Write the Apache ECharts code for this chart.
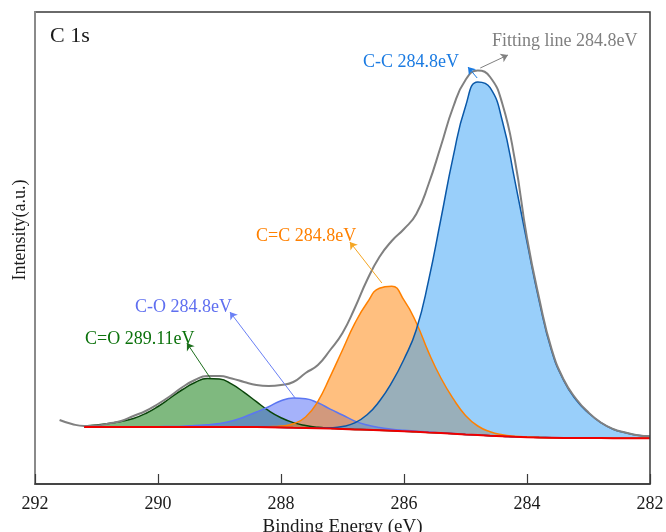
<!DOCTYPE html>
<html>
<head>
<meta charset="utf-8">
<title>C 1s</title>
<script src="https://cdn.jsdelivr.net/npm/echarts@6/dist/echarts.min.js"></script>
<style>
  html, body { margin: 0; padding: 0; background: #fff; }
  #chart { width: 666px; height: 532px; }
</style>
</head>
<body>
<div id="chart"></div>
<script>
// binding energy grid (eV), 291.6 -> 282.0
var energy = [291.6, 291.4, 291.2, 291.0, 290.8, 290.6, 290.4, 290.2, 290.0, 289.8,
  289.6, 289.4, 289.2, 289.0, 288.8, 288.6, 288.4, 288.2, 288.0, 287.8,
  287.6, 287.4, 287.2, 287.0, 286.8, 286.6, 286.4, 286.2, 286.0, 285.8,
  285.6, 285.4, 285.2, 285.0, 284.8, 284.6, 284.4, 284.2, 284.0, 283.8,
  283.6, 283.4, 283.2, 283.0, 282.8, 282.6, 282.4, 282.2, 282.0];

// background (red line), a.u.
var background = [null, null, 57, 57, 57, 57, 57, 57, 57, 57,
  57, 57, 57, 57, 57, 57, 57, 56.8, 56.5, 56.2,
  56, 55.7, 55.4, 55, 54.6, 54.2, 53.8, 53.3, 52.8, 52.3,
  51.6, 51, 50.3, 49.6, 49, 48.3, 47.8, 47.2, 46.8, 46.5,
  46.3, 46.1, 46, 46, 45.9, 45.8, 45.8, 45.7, 45.7];

// fitted components, height above background
var peakCO2 = [null, null, 1, 2, 3.5, 5.5, 8.5, 13.5, 20.5, 29,
  37.5, 44.5, 48.5, 48, 42.8, 34.6, 25.3, 16.5, 9.8, 5.2,
  2.5, 1, 0.4, 0, 0, 0, 0, 0, 0, 0,
  0, 0, 0, 0, 0, 0, 0, 0, 0, 0,
  0, 0, 0, 0, 0, 0, 0, 0, 0];
var peakCO = [null, null, 0, 0, 0, 0, 0.1, 0.2, 0.3, 0.5,
  0.8, 1.5, 2.2, 3.5, 6, 10, 15, 20.5, 26.7, 29.7,
  29.2, 25.5, 19.5, 14, 8.3, 4.8, 2.6, 1.5, 0.9, 0.5,
  0.3, 0.2, 0.1, 0, 0, 0, 0, 0, 0, 0,
  0, 0, 0, 0, 0, 0, 0, 0, 0];
var peakCC2 = [null, null, 0, 0, 0, 0, 0, 0, 0, 0,
  0, 0, 0, 0, 0, 0, 0, 0.5, 1.5, 4,
  11, 27, 52, 79, 106, 127, 142, 144.5, 131, 109,
  80, 55, 35, 19, 9, 4, 1.5, 0.6, 0.2, 0,
  0, 0, 0, 0, 0, 0, 0, 0, 0];
var peakCC = [null, null, 0, 0, 0, 0, 0, 0, 0, 0,
  0, 0, 0, 0, 0, 0, 0, 0, 0, 0,
  0, 0.2, 0.8, 2.5, 6.5, 15, 29, 48, 72, 102,
  152, 214, 277, 328, 353, 348, 315, 257, 195, 136,
  87, 57, 38, 25, 15.5, 9, 5.5, 3, 2];

// envelope (fitting line)
var fitLine = [64, 60, 58, 58.5, 60.5, 63, 68, 73, 80, 88,
  97, 104, 108, 108, 105.5, 102, 99, 98, 99, 102,
  111, 119, 134, 151, 176, 204, 227, 243, 255, 270,
  300, 338, 377, 404, 413.5, 407, 380, 325, 246, 185,
  135, 104, 85, 71.5, 61.5, 55, 51.5, 48.7, 47.7];

var xTicks = [282, 284, 286, 288, 290, 292];

var serif = '"Liberation Serif", "Times New Roman", serif';

function onBackground(vals) {
  return energy.map(function (e, i) {
    if (vals[i] == null || background[i] == null) return [e, null];
    return [e, background[i] + vals[i]];
  });
}
function plain(vals) {
  return energy.map(function (e, i) { return [e, vals[i]]; });
}
// white cover under the background line, run a little past its left end
var firstBg = background.filter(function (v) { return v != null; })[0];
function cover() {
  return energy.map(function (e, i) {
    return [e, background[i] == null ? firstBg : background[i]];
  });
}

function peak(name, vals, line, fill) {
  return {
    name: name,
    type: 'line',
    data: onBackground(vals),
    smooth: 0.5,
    symbol: 'none',
    silent: true,
    lineStyle: { color: line, width: 1.5 },
    areaStyle: { color: fill, opacity: 1, origin: 'start' }
  };
}

function arrow(from, to, color) {
  var ls = { color: color, width: 1, type: 'solid' };
  return [
    { coord: from, lineStyle: ls, itemStyle: { color: color } },
    { coord: to, lineStyle: ls, itemStyle: { color: color } }
  ];
}

var chart = echarts.init(document.getElementById('chart'));

var option = {
  animation: false,
  backgroundColor: '#fff',
  grid: {
    left: 35, right: 16, top: 12, bottom: 48,
    show: true, borderColor: '#3a3a3a', borderWidth: 1.5,
    backgroundColor: 'transparent', z: 10,
    outerBoundsMode: 'none'
  },
  xAxis: {
    type: 'value', min: 282, max: 292, interval: 2, inverse: true, z: 10,
    axisLine: { lineStyle: { color: '#3a3a3a', width: 1.5 } },
    axisTick: { inside: true, length: 10, lineStyle: { color: '#3a3a3a', width: 1.2 } },
    axisLabel: {
      fontFamily: serif, fontSize: 18, color: '#1a1a1a', margin: 11,
      formatter: function (v) { return xTicks.indexOf(v) >= 0 ? String(v) : ''; }
    },
    splitLine: { show: false },
    name: 'Binding Energy (eV)', nameLocation: 'middle', nameGap: 29,
    nameTextStyle: { fontFamily: serif, fontSize: 19, color: '#1a1a1a' }
  },
  yAxis: {
    type: 'value', min: 0, max: 472, z: 10,
    axisLine: { show: true, lineStyle: { color: '#8a8a8a', width: 2 } },
    axisTick: { show: false },
    axisLabel: { show: false },
    splitLine: { show: false }
  },
  series: [
    peak('C=O', peakCO2, '#0a450a', 'rgba(0,115,0,0.5)'),
    peak('C-O', peakCO, '#5b76f2', 'rgba(75,101,245,0.5)'),
    peak('C=C', peakCC2, '#ff8000', 'rgba(255,128,0,0.5)'),
    peak('C-C', peakCC, '#0a58a8', 'rgba(51,160,245,0.5)'),
    {
      name: 'Fitting line',
      type: 'line',
      data: plain(fitLine),
      smooth: 0.5,
      symbol: 'none',
      silent: true,
      lineStyle: { color: '#808080', width: 2 },
      markLine: {
        silent: true,
        symbol: ['none', 'arrow'],
        symbolSize: 7,
        label: { show: false },
        lineStyle: { type: 'solid' },
        data: [
          arrow([284.81, 406], [284.96, 417], '#1b7be2'),
          arrow([284.76, 416], [284.31, 429], '#808080'),
          arrow([286.36, 201], [286.88, 242], '#f5a623'),
          arrow([287.77, 86], [288.83, 172], '#6a80f5'),
          arrow([289.15, 106], [289.53, 141], '#1c6e1c')
        ]
      }
    },
    {
      name: 'cover',
      type: 'line',
      data: cover(),
      symbol: 'none',
      silent: true,
      lineStyle: { width: 0, opacity: 0 },
      areaStyle: { color: '#ffffff', opacity: 1, origin: 'start' }
    },
    {
      name: 'Background',
      type: 'line',
      data: plain(background),
      symbol: 'none',
      silent: true,
      lineStyle: { color: '#ee0000', width: 2 }
    }
  ],
  graphic: [
    { type: 'text', x: 50, y: 36, style: { text: 'C 1s', font: '22px ' + serif, fill: '#1a1a1a', textVerticalAlign: 'middle' } },
    { type: 'text', x: 492, y: 41, style: { text: 'Fitting line 284.8eV', font: '18px ' + serif, fill: '#7f7f7f', textVerticalAlign: 'middle' } },
    { type: 'text', x: 363, y: 62, style: { text: 'C-C 284.8eV', font: '18px ' + serif, fill: '#1b7be2', textVerticalAlign: 'middle' } },
    { type: 'text', x: 256, y: 236, style: { text: 'C=C 284.8eV', font: '18px ' + serif, fill: '#ff8000', textVerticalAlign: 'middle' } },
    { type: 'text', x: 135, y: 307, style: { text: 'C-O 284.8eV', font: '18px ' + serif, fill: '#5f6ff0', textVerticalAlign: 'middle' } },
    { type: 'text', x: 85, y: 339, style: { text: 'C=O 289.11eV', font: '18px ' + serif, fill: '#0c720c', textVerticalAlign: 'middle' } },
    { type: 'text', x: 20, y: 230, rotation: Math.PI / 2, style: { text: 'Intensity(a.u.)', font: '18px ' + serif, fill: '#1a1a1a', textAlign: 'center', textVerticalAlign: 'middle' } }
  ]
};

chart.setOption(option);
</script>
</body>
</html>
